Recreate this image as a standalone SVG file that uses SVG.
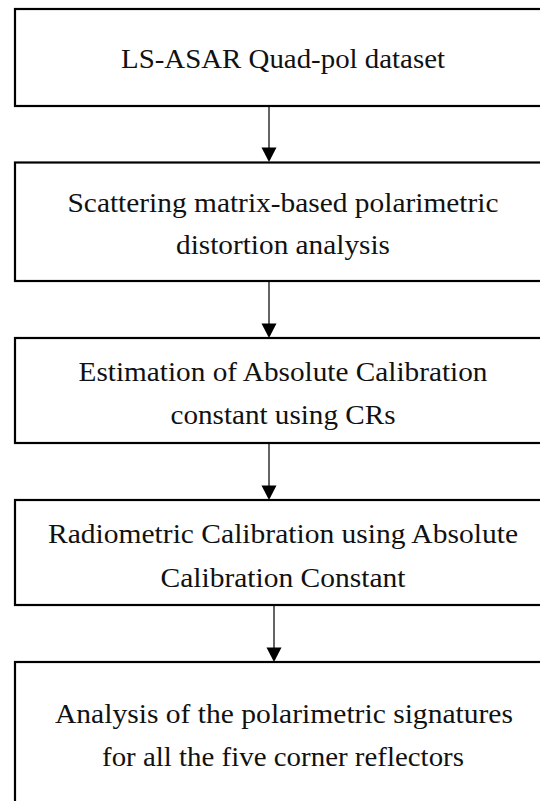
<svg xmlns="http://www.w3.org/2000/svg" width="540" height="801" viewBox="0 0 540 801">
<style>
.box{fill:#fff;stroke:#000;stroke-width:2.2}
.t{font-family:"Liberation Serif","Times New Roman",serif;font-size:27px;fill:#111;text-anchor:middle}
.c{stroke:#111;stroke-width:1.3;fill:none}
.h{fill:#000}
</style>
<rect width="540" height="801" fill="#fff"/>
<g id="n1">
<rect class="box" x="15" y="9" width="540" height="97"/>
<text class="t" x="283" y="68" textLength="324" lengthAdjust="spacingAndGlyphs">LS-ASAR Quad-pol dataset</text>
</g>
<g id="n2">
<rect class="box" x="15" y="162.5" width="540" height="118.5"/>
<text class="t" x="283" y="212" textLength="431" lengthAdjust="spacingAndGlyphs">Scattering matrix-based polarimetric</text>
<text class="t" x="283" y="254" textLength="214" lengthAdjust="spacingAndGlyphs">distortion analysis</text>
</g>
<g id="n3">
<rect class="box" x="15" y="338" width="540" height="105"/>
<text class="t" x="283" y="381" textLength="409" lengthAdjust="spacingAndGlyphs">Estimation of Absolute Calibration</text>
<text class="t" x="283" y="424" textLength="225" lengthAdjust="spacingAndGlyphs">constant using CRs</text>
</g>
<g id="n4">
<rect class="box" x="15" y="500" width="540" height="105"/>
<text class="t" x="283" y="543" textLength="470" lengthAdjust="spacingAndGlyphs">Radiometric Calibration using Absolute</text>
<text class="t" x="283" y="587" textLength="245" lengthAdjust="spacingAndGlyphs">Calibration Constant</text>
</g>
<g id="n5">
<rect class="box" x="15" y="662" width="540" height="160"/>
<text class="t" x="284" y="723" textLength="458" lengthAdjust="spacingAndGlyphs">Analysis of the polarimetric signatures</text>
<text class="t" x="283" y="766" textLength="362" lengthAdjust="spacingAndGlyphs">for all the five corner reflectors</text>
</g>
<g id="connectors">
<line class="c" x1="269" y1="107" x2="269" y2="150"/>
<polygon class="h" points="261.5,147.5 276.5,147.5 269,162"/>
<line class="c" x1="269" y1="282" x2="269" y2="326"/>
<polygon class="h" points="261.5,323.5 276.5,323.5 269,338"/>
<line class="c" x1="269" y1="444" x2="269" y2="488"/>
<polygon class="h" points="261.5,485.5 276.5,485.5 269,500"/>
<line class="c" x1="274" y1="606" x2="274" y2="650"/>
<polygon class="h" points="266.5,647.5 281.5,647.5 274,662"/>
</g>
</svg>
